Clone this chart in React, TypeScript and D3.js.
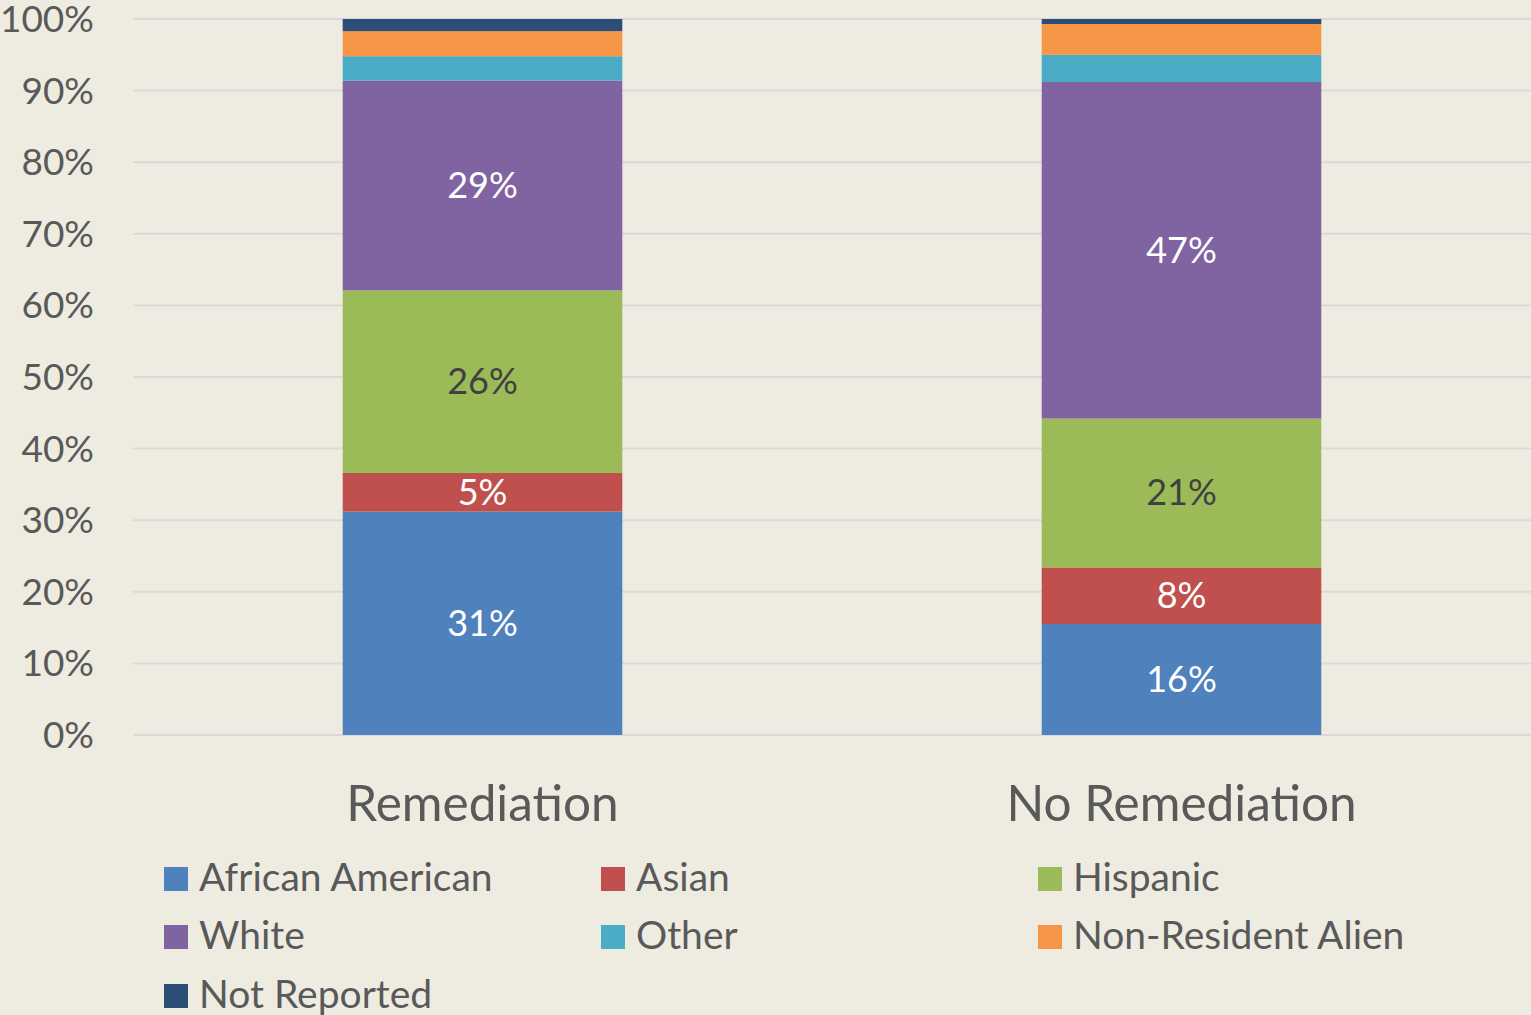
import React from "react";
import * as d3 from "d3";

const categories = ["Remediation", "No Remediation"];
const seriesNames = ["African American", "Asian", "Hispanic", "White", "Other", "Non-Resident Alien", "Not Reported"];
const africanAmerican = [31.2, 15.5];
const asian = [5.4, 7.9];
const hispanic = [25.5, 20.8];
const white = [29.3, 47.0];
const other = [3.4, 3.8];
const nonResidentAlien = [3.5, 4.3];
const notReported = [1.7, 0.7];
const dataLabels = [
  ["31%", "16%"],
  ["5%", "8%"],
  ["26%", "21%"],
  ["29%", "47%"],
  null,
  null,
  null,
];
const yTicks = [0, 10, 20, 30, 40, 50, 60, 70, 80, 90, 100];

const colors = ["#4F81BD", "#C0504D", "#9BBB59", "#8064A2", "#4BACC6", "#F79646", "#2C4D75"];
const labelColors = ["#FFFFFF", "#FFFFFF", "#404040", "#FFFFFF"];

const W = 1531;
const H = 1015;
const FONT = "Lato, 'Open Sans', sans-serif";

export default function App() {
  const seriesValues = [africanAmerican, asian, hispanic, white, other, nonResidentAlien, notReported];
  const rows = categories.map((c, i) => {
    const r: any = { cat: c };
    seriesNames.forEach((s, k) => (r[s] = seriesValues[k][i]));
    return r;
  });
  const stack = d3.stack<any>().keys(seriesNames)(rows);

  const x = d3.scaleBand().domain(categories).range([133, 1531]).paddingInner(0.6).paddingOuter(0.3);
  const y = d3.scaleLinear().domain([0, 100]).range([735, 19]);

  const legendCols = [164, 601, 1038];
  const legendRows = [867, 925, 984];

  return (
    <svg width={W} height={H} style={{ position: "absolute", left: 0, top: 0, background: "#EEECE1" }}>
      <rect x={0} y={0} width={W} height={H} fill="#EEECE1" />
      {yTicks.map((t) => (
        <g key={t}>
          <line x1={133} x2={1531} y1={y(t)} y2={y(t)} stroke="#D9D9D9" strokeWidth={2} />
          <text x={94} y={y(t) + 13} textAnchor="end" fontFamily={FONT} fontSize={37} fill="#595959">
            {t}%
          </text>
        </g>
      ))}
      {stack.map((s, k) => (
        <g key={s.key}>
          {s.map((d, i) => (
            <rect
              key={i}
              x={x(categories[i])}
              width={x.bandwidth()}
              y={y(d[1])}
              height={y(d[0]) - y(d[1])}
              fill={colors[k]}
            />
          ))}
        </g>
      ))}
      {stack.map((s, k) =>
        dataLabels[k]
          ? s.map((d, i) => (
              <text
                key={s.key + i}
                x={(x(categories[i]) as number) + x.bandwidth() / 2}
                y={(y(d[0]) + y(d[1])) / 2 + 12.5}
                textAnchor="middle"
                fontFamily={FONT}
                fontSize={36}
                fill={labelColors[k]}
              >
                {(dataLabels[k] as string[])[i]}
              </text>
            ))
          : null
      )}
      {categories.map((c) => (
        <text
          key={c}
          x={(x(c) as number) + x.bandwidth() / 2}
          y={821}
          textAnchor="middle"
          fontFamily={FONT}
          fontSize={49.5}
          fill="#595959"
        >
          {c}
        </text>
      ))}
      {seriesNames.map((s, k) => {
        const cx = legendCols[k % 3];
        const cy = legendRows[Math.floor(k / 3)];
        return (
          <g key={s}>
            <rect x={cx} y={cy} width={24} height={24} fill={colors[k]} />
            <text x={cx + 35} y={cy + 24} fontFamily={FONT} fontSize={39} fill="#595959">
              {s}
            </text>
          </g>
        );
      })}
    </svg>
  );
}
